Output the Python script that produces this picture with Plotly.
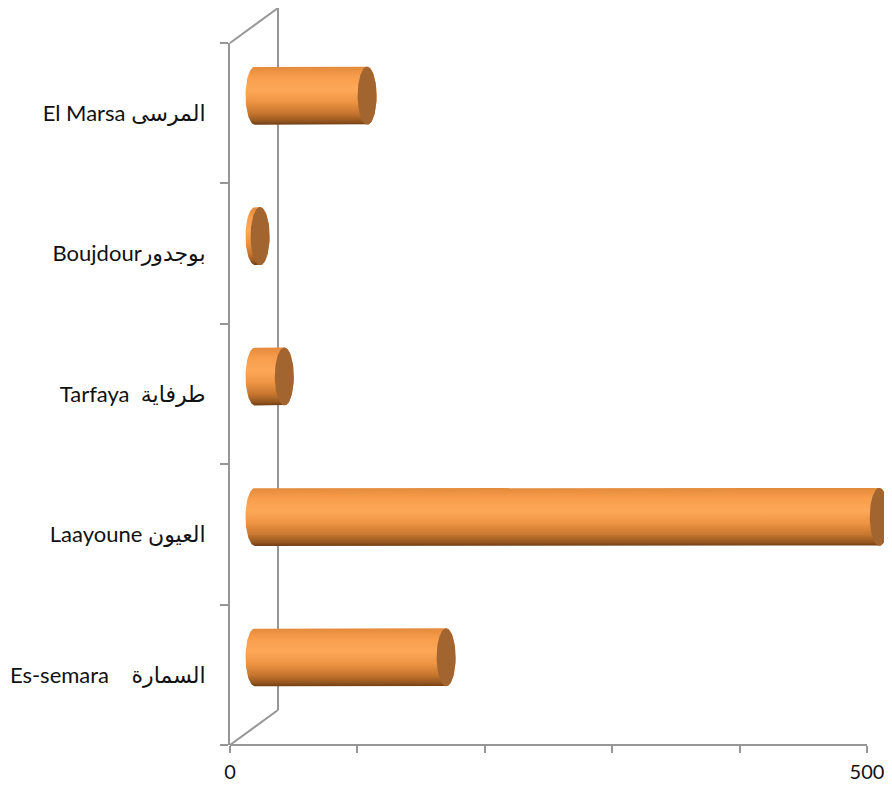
import numpy as np
import plotly.graph_objects as go

# ---------------- data ----------------
categories = [
    "Es-semara\u00a0\u00a0\u00a0\u00a0السمارة",
    "Laayoune العيون",
    "Tarfaya\u00a0\u00a0طرفاية",
    "Boujdourبوجدور",
    "El Marsa المرسى",
]
values = [150, 490, 23, 4, 88]
x_tick_vals = [0, 100, 200, 300, 400, 500]
x_tick_text = ["0", "", "", "", "", "500"]

# ---------------- layout geometry ----------------
PAGE_MARGIN = 8                        # default body margin of the page
W, H = 892 - 2 * PAGE_MARGIN, 793 - 2 * PAGE_MARGIN
ML = 230 - PAGE_MARGIN
MT = 43 - PAGE_MARGIN
MB = H - (745 - PAGE_MARGIN)
MR = 0
PLOT_W = W - ML - MR
PLOT_H = H - MT - MB
AXIS_MAX = 500
PX_AT_MAX = 637                        # pixel distance of 500 from the origin
X_RANGE_MAX = AXIS_MAX * PLOT_W / PX_AT_MAX
PX_PER_UNIT = PX_AT_MAX / AXIS_MAX
BAND_PX = PLOT_H / len(categories)

# 3D depth of the wall, and position of the bars within that depth (pixels)
WALL_DX, WALL_DY = 48, 35
BAR_DX, BAR_DY = 25, 17.5
DX = BAR_DX / PX_PER_UNIT
DY = BAR_DY / BAND_PX

BAR_HALF = 29 / BAND_PX                # half height of a cylinder in band units
CAP_RX = 9.5 / PX_PER_UNIT             # horizontal radius of the end ellipses

AXIS_COLOR = "#969696"
FONT = "Lato, 'DejaVu Sans', sans-serif"
BODY_SCALE = [
    [0.0, "#6f3d14"],
    [0.06, "#94561f"],
    [0.2, "#c8772f"],
    [0.4, "#ef9544"],
    [0.6, "#fca858"],
    [0.82, "#f89d4b"],
    [1.0, "#e38a3c"],
]
CAP_COLOR = "#a2652f"

fig = go.Figure()

# anchor trace that fixes the category axis
fig.add_trace(go.Scatter(
    x=[0] * len(categories), y=categories, mode="markers",
    marker=dict(opacity=0), showlegend=False, hoverinfo="skip",
))

t_left = np.linspace(np.pi / 2, 3 * np.pi / 2, 40)
t_right = np.linspace(-np.pi / 2, np.pi / 2, 40)
t_full = np.linspace(0, 2 * np.pi, 80)

for i, v in enumerate(values):
    xs = ([v, 0] + list(CAP_RX * np.cos(t_left)) + [0, v]
          + list(v + CAP_RX * np.cos(t_right)))
    ys = ([i + BAR_HALF, i + BAR_HALF] + list(i + BAR_HALF * np.sin(t_left))
          + [i - BAR_HALF, i - BAR_HALF] + list(i + BAR_HALF * np.sin(t_right)))
    fig.add_trace(go.Scatter(
        x=xs, y=ys, xaxis="x2", yaxis="y2", mode="lines",
        line=dict(width=0), fill="toself",
        fillgradient=dict(type="vertical", colorscale=BODY_SCALE),
        showlegend=False, hoverinfo="skip",
    ))
    fig.add_trace(go.Scatter(
        x=list(v + CAP_RX * np.cos(t_full)), y=list(i + BAR_HALF * np.sin(t_full)),
        xaxis="x2", yaxis="y2", mode="lines",
        line=dict(width=0), fill="toself", fillcolor=CAP_COLOR,
        showlegend=False, hoverinfo="skip",
    ))

# wall / floor frame (paper coordinates)
wx = WALL_DX / PLOT_W
wy = WALL_DY / PLOT_H
line_style = dict(color=AXIS_COLOR, width=2)
shapes = [
    dict(type="line", xref="paper", yref="paper", x0=0, y0=1, x1=wx, y1=1 + wy,
         line=line_style, layer="below"),
    dict(type="line", xref="paper", yref="paper", x0=wx, y0=1 + wy, x1=wx, y1=wy,
         line=line_style, layer="below"),
    dict(type="line", xref="paper", yref="paper", x0=0, y0=0, x1=wx, y1=wy,
         line=line_style, layer="below"),
    dict(type="line", xref="x", yref="paper", x0=0, y0=0, x1=AXIS_MAX, y1=0,
         line=line_style, layer="below"),
]

fig.update_layout(
    width=W, height=H,
    margin=dict(l=ML, r=MR, t=MT, b=MB, pad=0, autoexpand=False),
    paper_bgcolor="white", plot_bgcolor="rgba(0,0,0,0)",
    showlegend=False,
    font=dict(family=FONT, size=22, color="#111111"),
    shapes=shapes,
    xaxis=dict(
        range=[0, X_RANGE_MAX], tickvals=x_tick_vals, ticktext=x_tick_text,
        ticks="outside", ticklen=7, tickwidth=2, tickcolor=AXIS_COLOR,
        showline=False, showgrid=False, zeroline=False, automargin=False,
        ticklabelstandoff=2, ticklabeloverflow="allow",
        tickfont=dict(size=20), fixedrange=True,
    ),
    yaxis=dict(
        type="category", categoryorder="array", categoryarray=categories,
        range=[-0.5, len(categories) - 0.5], automargin=False,
        tickson="boundaries", ticks="outside", ticklen=8, tickwidth=2,
        tickcolor=AXIS_COLOR, showline=True, linecolor=AXIS_COLOR, linewidth=2,
        showgrid=False, zeroline=False, ticklabelstandoff=18, fixedrange=True,
    ),
    xaxis2=dict(
        overlaying="x", range=[-DX, X_RANGE_MAX - DX], visible=False,
        anchor="y2", fixedrange=True, automargin=False,
    ),
    yaxis2=dict(
        overlaying="y", range=[-0.5 - DY, len(categories) - 0.5 - DY],
        visible=False, anchor="x2", fixedrange=True, automargin=False,
    ),
)

fig.write_html("out.html")
